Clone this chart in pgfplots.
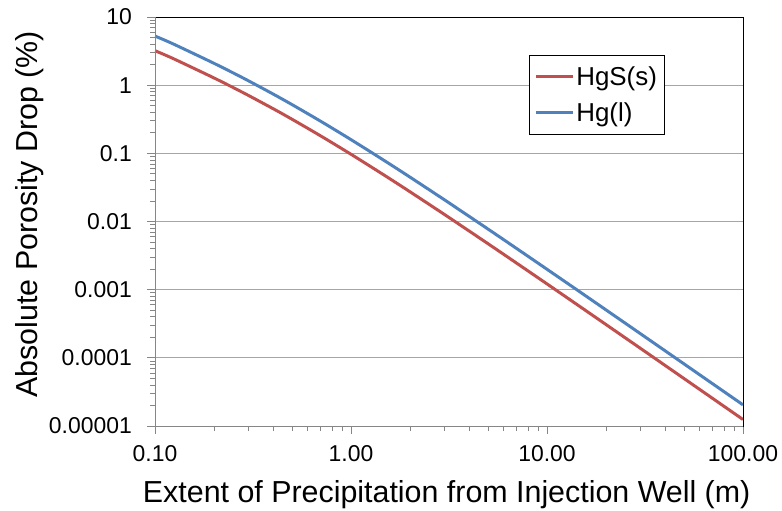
\documentclass[border=0pt]{standalone}
\usepackage{fontspec}
\setmainfont{Liberation Sans}
\usepackage{pgfplots}
\pgfplotsset{compat=1.18}
\definecolor{exred}{HTML}{C0504D}
\definecolor{exblue}{HTML}{4F81BD}
\definecolor{exgrid}{HTML}{A6A6A6}
\definecolor{exaxis}{HTML}{868686}
\begin{document}
\begin{tikzpicture}
\begin{axis}[
  scale only axis,
  width=588bp, height=409bp,
  xmode=log, ymode=log,
  xmin=0.1, xmax=100, ymin=0.00001, ymax=10,
  xtick={0.1,1,10,100},
  xticklabels={0.10,1.00,10.00,100.00},
  ytick={0.00001,0.0001,0.001,0.01,0.1,1,10},
  yticklabels={0.00001,0.0001,0.001,0.01,0.1,1,10},
  minor xtick={0.2,0.3,0.4,0.5,0.6,0.7,0.8,0.9,2,3,4,5,6,7,8,9,20,30,40,50,60,70,80,90},
  minor ytick={0.00002,0.00003,0.00004,0.00005,0.00006,0.00007,0.00008,0.00009,
    0.0002,0.0003,0.0004,0.0005,0.0006,0.0007,0.0008,0.0009,
    0.002,0.003,0.004,0.005,0.006,0.007,0.008,0.009,
    0.02,0.03,0.04,0.05,0.06,0.07,0.08,0.09,
    0.2,0.3,0.4,0.5,0.6,0.7,0.8,0.9,2,3,4,5,6,7,8,9},
  xtick pos=bottom, ytick pos=left,
  tick align=outside,
  major tick length=8bp, minor tick length=5bp,
  every tick/.style={exaxis, line width=0.8pt},
  ymajorgrids, major grid style={exgrid, line width=0.9pt},
  axis line style={black, line width=0.9pt},
  ticklabel style={font=\fontsize{23}{27}\selectfont, inner sep=0pt},
  xticklabel style={anchor=base, yshift=-28bp},
  yticklabel style={anchor=east, xshift=-15bp},
  xlabel={Extent of Precipitation from Injection Well (m)},
  ylabel={Absolute Porosity Drop (\%)},
  label style={font=\fontsize{30.5}{36}\selectfont, inner sep=0pt},
  xlabel style={at={(axis description cs:0.496,-0.188)}, anchor=base},
  ylabel style={at={(axis description cs:-0.238,0.518)}, anchor=north, rotate=0},
  legend style={at={(rel axis cs:0.636,0.907)}, anchor=north west,
    draw=black, line width=0.8pt, font=\fontsize{26}{30}\selectfont,
    inner xsep=5bp, inner ysep=9bp, row sep=12bp},
  legend cell align=left,
  legend image code/.code={\draw[#1, line width=3pt] (0bp,0bp) -- (37bp,0bp);},
]
\addplot[exred, line width=3pt, smooth] coordinates {
(0.1,3.205) (0.12,2.560) (0.15,1.894) (0.2,1.276) (0.25,0.9259) (0.3,0.7062)
(0.4,0.4529) (0.5,0.3165) (0.7,0.1804) (1,0.09690) (1.5,0.04655) (2,0.02729)
(3,0.01266) (5,0.004726) (7,0.002450) (10,0.001215) (15,0.000545) (20,0.000308)
(30,0.0001376) (50,0.00004971) (70,0.00002540) (100,0.00001246)
};
\addlegendentry{HgS(s)}
\addplot[exblue, line width=3pt, smooth] coordinates {
(0.1,5.256) (0.12,4.198) (0.15,3.106) (0.2,2.092) (0.25,1.518) (0.3,1.158)
(0.4,0.7428) (0.5,0.519) (0.7,0.2958) (1,0.1589) (1.5,0.07635) (2,0.04476)
(3,0.02077) (5,0.007751) (7,0.004018) (10,0.001992) (15,0.000894) (20,0.000505)
(30,0.0002256) (50,0.00008152) (70,0.00004166) (100,0.00002044)
};
\addlegendentry{Hg(l)}
\draw[exaxis, line width=0.9pt] (rel axis cs:0,0) -- (rel axis cs:0,1);
\draw[exaxis, line width=0.9pt] (rel axis cs:0,0) -- (rel axis cs:1,0);
\coordinate (pSW) at (rel axis cs:0,0);
\coordinate (pNE) at (rel axis cs:1,1);
\end{axis}
\pgfresetboundingbox
\path ([shift={(-155bp,-84bp)}]pSW) rectangle ([shift={(39bp,17bp)}]pNE);
\end{tikzpicture}
\end{document}
